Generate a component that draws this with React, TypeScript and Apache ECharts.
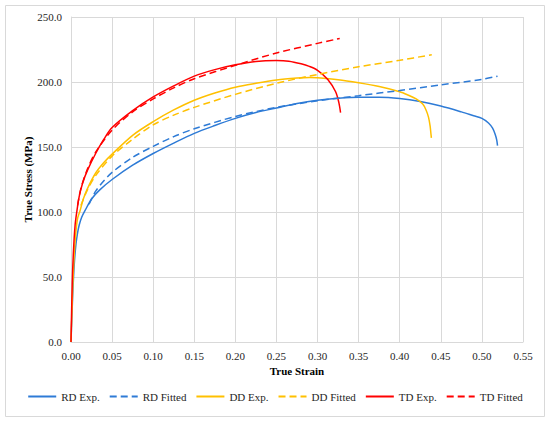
import React, { useEffect, useRef } from "react";
import * as echarts from "echarts";

const xTicks = { min: 0, max: 0.55, interval: 0.05 };
const yTicks = { min: 0, max: 250, interval: 50 };

const seriesNames = ["RD Exp.", "RD Fitted", "DD Exp.", "DD Fitted", "TD Exp.", "TD Fitted"];

const rdExp: [number, number][] = [
  [0, 0], [0.002, 35], [0.004, 60], [0.006, 75], [0.008, 84], [0.01, 90], [0.013, 96], [0.017, 101],
  [0.025, 110], [0.035, 117], [0.05, 125], [0.075, 136], [0.1, 145], [0.125, 153], [0.15, 160.5],
  [0.175, 166.5], [0.2, 172], [0.225, 176.5], [0.25, 180], [0.275, 183.5], [0.3, 186], [0.325, 187.5],
  [0.35, 188.3], [0.375, 188.3], [0.4, 187.3], [0.425, 185], [0.45, 181.5], [0.475, 177], [0.49, 174],
  [0.5, 172], [0.508, 168.5], [0.513, 164.5], [0.516, 160], [0.518, 155.5], [0.519, 151],
];

const rdFit: [number, number][] = [
  [0.022, 106], [0.03, 116], [0.04, 124], [0.05, 130.5], [0.075, 142], [0.1, 150.5], [0.125, 158],
  [0.15, 164], [0.2, 173.5], [0.25, 180.5], [0.3, 185.5], [0.35, 189.5], [0.4, 193.5], [0.45, 197.8],
  [0.5, 202], [0.519, 204.5],
];

const ddExp: [number, number][] = [
  [0, 0], [0.002, 40], [0.004, 68], [0.006, 85], [0.008, 95], [0.011, 101], [0.015, 110], [0.02, 118],
  [0.03, 130], [0.04, 138], [0.05, 144.5], [0.075, 159], [0.1, 169.5], [0.125, 178.5], [0.15, 186],
  [0.175, 191.5], [0.2, 196], [0.225, 199], [0.25, 201.5], [0.275, 203], [0.29, 203.5], [0.3, 203.3],
  [0.325, 201.8], [0.35, 199.4], [0.375, 196.5], [0.4, 192.5], [0.41, 190], [0.42, 187], [0.428, 183],
  [0.432, 178.5], [0.435, 173], [0.437, 166], [0.438, 160], [0.4385, 157],
];

const ddFit: [number, number][] = [
  [0.012, 105], [0.02, 117], [0.03, 128], [0.05, 143], [0.075, 156], [0.1, 167], [0.125, 174.5],
  [0.15, 180.5], [0.2, 190.5], [0.25, 199], [0.3, 205.8], [0.35, 211.7], [0.4, 216.7], [0.439, 221],
];

const tdExp: [number, number][] = [
  [0, 0], [0.0015, 45], [0.003, 70], [0.005, 90], [0.007, 100], [0.01, 112], [0.014, 122], [0.02, 132],
  [0.03, 145], [0.04, 156], [0.05, 165], [0.075, 178], [0.1, 188.5], [0.125, 197], [0.15, 204.5],
  [0.175, 209.5], [0.2, 213.2], [0.225, 215.8], [0.25, 216.5], [0.265, 216], [0.28, 214], [0.29, 212],
  [0.3, 209], [0.3125, 202], [0.322, 192.5], [0.326, 184], [0.328, 176.5],
];

const tdFit: [number, number][] = [
  [0.008, 105], [0.012, 118], [0.02, 133], [0.03, 146], [0.05, 163], [0.075, 177], [0.1, 187],
  [0.125, 195.5], [0.15, 202.5], [0.2, 212.8], [0.25, 222.3], [0.3, 229.7], [0.327, 233.5],
];

const colors = ["#2E7BD6", "#2E7BD6", "#FFC000", "#FFC000", "#FF0000", "#FF0000"];
const dataSets = [rdExp, rdFit, ddExp, ddFit, tdExp, tdFit];

const FONT = "Liberation Serif";

export default function App() {
  const ref = useRef<HTMLDivElement>(null);
  useEffect(() => {
    if (!ref.current) return;
    const chart = echarts.init(ref.current, null, { renderer: "svg" });
    chart.setOption({
      animation: false,
      backgroundColor: "#ffffff",
      textStyle: { fontFamily: FONT },
      graphic: [
        {
          type: "rect",
          shape: { x: 5.5, y: 5.5, width: 539, height: 411 },
          style: { fill: "none", stroke: "#D9D9D9", lineWidth: 1 },
          silent: true,
        },
      ],
      grid: { left: 71, right: 27, top: 17, bottom: 83 },
      legend: {
        top: 386,
        left: "center",
        itemWidth: 28,
        itemHeight: 8,
        itemGap: 9,
        itemStyle: { opacity: 0 },
        textStyle: { fontFamily: FONT, fontSize: 11, color: "#262626" },
        data: seriesNames,
      },
      xAxis: {
        type: "value",
        min: xTicks.min,
        max: xTicks.max,
        interval: xTicks.interval,
        name: "True Strain",
        nameLocation: "middle",
        nameGap: 23,
        nameMoveOverlap: false,
        nameTextStyle: { fontFamily: FONT, fontSize: 11, fontWeight: "bold", color: "#000" },
        axisLine: { lineStyle: { color: "#D9D9D9" } },
        axisTick: { show: false },
        axisLabel: {
          fontFamily: FONT,
          fontSize: 11,
          color: "#262626",
          margin: 8,
          formatter: (v: number) => v.toFixed(2),
        },
        splitLine: { show: true, lineStyle: { color: "#D9D9D9", width: 1 } },
      },
      yAxis: {
        type: "value",
        min: yTicks.min,
        max: yTicks.max,
        interval: yTicks.interval,
        name: "True Stress (MPa)",
        nameLocation: "middle",
        nameGap: 38,
        nameMoveOverlap: false,
        nameTextStyle: { fontFamily: FONT, fontSize: 11, fontWeight: "bold", color: "#000" },
        axisLine: { show: true, lineStyle: { color: "#D9D9D9" } },
        axisTick: { show: false },
        axisLabel: {
          fontFamily: FONT,
          fontSize: 11,
          color: "#262626",
          margin: 9,
          formatter: (v: number) => v.toFixed(1),
        },
        splitLine: { show: true, lineStyle: { color: "#D9D9D9", width: 1 } },
      },
      series: dataSets.map((d, i) => ({
        name: seriesNames[i],
        type: "line",
        data: d,
        symbol: "none",
        smooth: 0.3,
        color: colors[i],
        lineStyle: {
          color: colors[i],
          width: 1.5,
          type: i % 2 === 1 ? [7, 4] : "solid",
        },
        z: i % 2 === 1 ? 3 : 2,
      })),
    });
    return () => chart.dispose();
  }, []);
  return (
    <div
      ref={ref}
      style={{ position: "fixed", left: 0, top: 0, width: 550, height: 425, background: "#fff" }}
    />
  );
}
